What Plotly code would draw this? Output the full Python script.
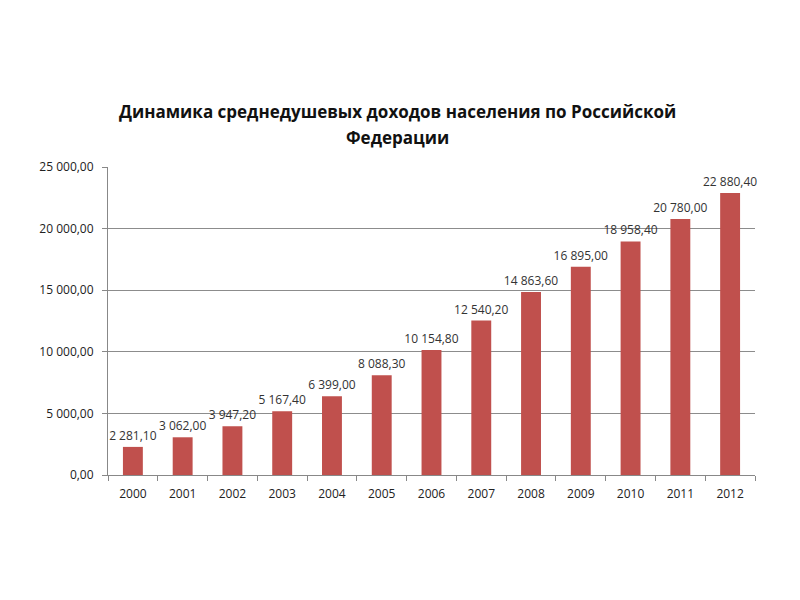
import plotly.graph_objects as go

years = ["2000", "2001", "2002", "2003", "2004", "2005", "2006",
         "2007", "2008", "2009", "2010", "2011", "2012"]
income = [2281.10, 3062.00, 3947.20, 5167.40, 6399.00, 8088.30, 10154.80,
          12540.20, 14863.60, 16895.00, 18958.40, 20780.00, 22880.40]
title_line1 = "Динамика среднедушевых доходов населения по Российской"
title_line2 = "Федерации"

FONT = "Open Sans, Liberation Sans, sans-serif"

fig = go.Figure()
fig.add_trace(go.Bar(
    x=years, y=income,
    marker=dict(color="#C0504D", line=dict(width=0)),
    width=0.4,
    texttemplate="%{y:,.2f}",
    textposition="outside",
    constraintext="none",
    cliponaxis=False,
    textfont=dict(family=FONT, size=12, color="#333333"),
))

for txt, yy in [(title_line1, 1.1786), (title_line2, 1.0942)]:
    fig.add_annotation(text=txt, xref="paper", yref="paper", x=0.448, y=yy,
                       xanchor="center", yanchor="middle", showarrow=False,
                       font=dict(family=FONT, size=17, color="#111111", weight="bold"))

fig.update_layout(
    width=800, height=600,
    paper_bgcolor="white", plot_bgcolor="white",
    separators=", ",
    showlegend=False,
    margin=dict(l=100, r=53, t=159, b=133),
    font=dict(family=FONT, size=12, color="#333333"),
    xaxis=dict(
        showline=True, linecolor="#888888", linewidth=1,
        ticks="outside", tickson="boundaries", ticklen=5, tickcolor="#888888",
        ticklabelstandoff=8,
        tickfont=dict(size=12, color="#222222"),
        showgrid=False,
    ),
    yaxis=dict(
        range=[0, 25000], dtick=5000, tickformat=",.2f",
        showline=True, linecolor="#888888", linewidth=1,
        ticks="outside", ticklen=5, tickcolor="#888888",
        ticklabelstandoff=6,
        showgrid=True, gridcolor="#8c8c8c", gridwidth=1,
        zeroline=False,
        tickfont=dict(size=12, color="#222222"),
    ),
)

fig.write_html("out.html")
